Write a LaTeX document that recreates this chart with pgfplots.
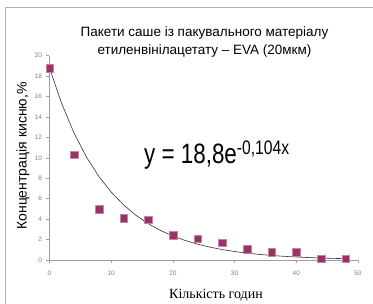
\documentclass[border=0pt]{standalone}
\usepackage{pgfplots}
\pgfplotsset{compat=1.18}
\usetikzlibrary{calc}
\usepackage{fontspec}
\setmainfont{Liberation Sans}
\newfontfamily\seriffont{Liberation Serif}
\definecolor{mk}{HTML}{993366}
\definecolor{ax}{HTML}{A0A0A0}
\definecolor{frame}{HTML}{B0B0B0}
\begin{document}
\begin{tikzpicture}
\begin{axis}[
  scale only axis, width=308.5pt, height=204.3pt,
  xmin=0, xmax=50, ymin=0, ymax=20,
  axis x line*=bottom, axis y line*=left,
  axis line style={ax, line width=0.6pt},
  xtick={0,10,...,50}, ytick={0,2,...,20},
  tick align=outside, major tick length=3pt,
  tick style={ax, line width=0.6pt},
  tick label style={font=\fontsize{6.5}{7}\selectfont, text=gray},
  /pgf/number format/assume math mode=true,
  xticklabel style={yshift=-4pt},
  yticklabel style={xshift=-1pt},
  clip=false,
]
\addplot[black!80, line width=0.6pt] coordinates {
(0,18.8) (2,15.27) (4,12.40) (6,10.07) (8,8.18) (10,6.65) (12,5.40) (14,4.38)
(16,3.56) (18,2.89) (20,2.35) (22,1.91) (24,1.55) (26,1.26) (28,1.02) (30,0.83)
(32,0.675) (34,0.548) (36,0.445) (38,0.361) (40,0.293) (42,0.238) (44,0.194)
(46,0.157) (48,0.128)};
\addplot[only marks, mark=square*, mark size=3.8pt, mark options={fill=mk, draw=mk!60!white, line width=0.3pt}] coordinates {
(0,18.8) (4,10.3) (8,5.0) (12,4.1) (16,3.95) (20,2.45) (24,2.1) (28,1.7)
(32,1.05) (36,0.75) (40,0.75) (44,0.15) (48,0.15)};
\coordinate (O) at (axis cs:0,0);
\end{axis}
\begin{scope}[shift={($(O)+(-49.5pt,-44pt)$)}, x=1pt, y=1pt]
\draw[frame, line width=0.8pt] (5.5,0) -- (5.5,297) -- (373,297);
\node[font=\fontsize{13.5}{18}\selectfont, align=center] at (204.5,261.5) {Пакети саше із пакувального матеріалу\\етиленвінілацетату -- EVA (20мкм)};
\node[font=\fontsize{28}{30}\selectfont, anchor=base west, xscale=0.8, inner sep=0pt] at (144,140.7) {y = 18,8e\textsuperscript{-0,104x}};
\node[font=\fontsize{14}{16}\selectfont, rotate=90] at (23,148) {Концентрація кисню,\%};
\node[font=\seriffont\fontsize{14}{16}\selectfont] at (216,9) {Кількість годин};
\pgfresetboundingbox
\path[use as bounding box] (0,0) rectangle (373,304);
\end{scope}
\end{tikzpicture}
\end{document}
